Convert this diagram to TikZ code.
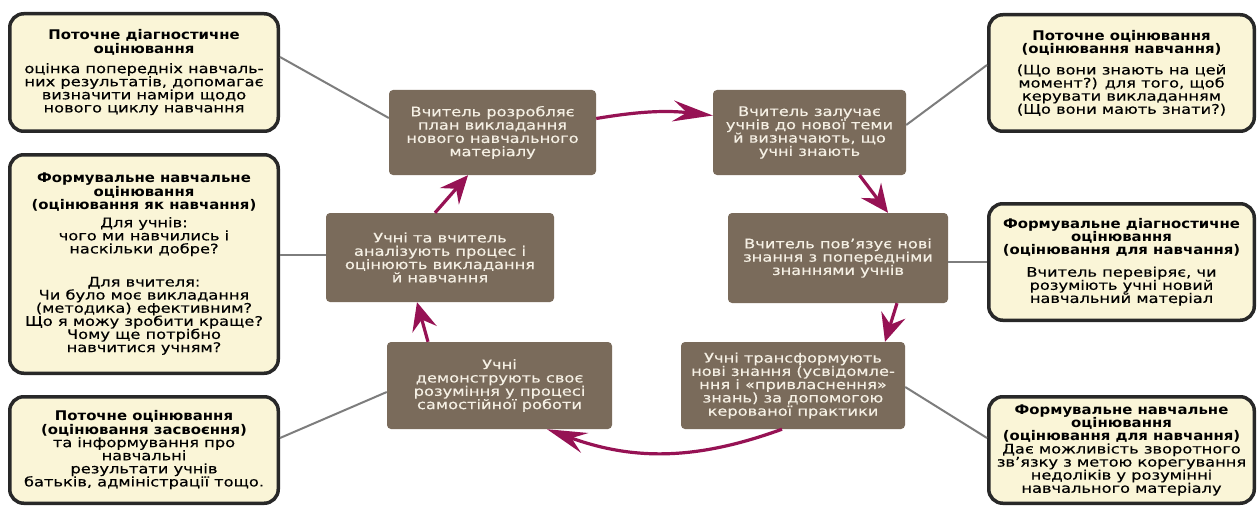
\documentclass[tikz,border=0pt]{standalone}
\usepackage{fontspec}
\setmainfont{DejaVu Sans}[FakeStretch=1.23, FakeBold=0.35]
\newfontfamily\ttlfont{DejaVu Sans}[FakeStretch=1.12]
\usetikzlibrary{arrows.meta}
\definecolor{boxbrown}{RGB}{122,107,91}
\definecolor{boxtext}{RGB}{245,240,228}
\definecolor{noteyel}{RGB}{250,245,215}
\definecolor{notebd}{RGB}{40,40,40}
\definecolor{arrowred}{RGB}{150,18,84}
\definecolor{linegray}{RGB}{125,125,125}
\newcommand{\ttl}[1]{{\ttlfont\fontsize{13.3}{13}\selectfont\bfseries #1}}
\begin{document}
\begin{tikzpicture}[x=1pt,y=-1pt,
  stepbox/.style={fill=boxbrown, rounded corners=4pt, text=boxtext, align=center,
    font=\fontsize{13.2}{13.3}\selectfont, inner sep=0pt},
  notebox/.style={draw=notebd, line width=3.5pt, fill=noteyel, rounded corners=14pt,
    align=center, font=\fontsize{13.2}{13.1}\selectfont, inner sep=0pt, text=black},
  link/.style={draw=linegray, line width=2pt},
  flow/.style={draw=arrowred, line width=3.2pt, -{Stealth[length=28pt,width=25pt,inset=10pt]}},
  flowh/.style={draw=arrowred, line width=3.2pt, -{Stealth[length=40pt,width=21pt,inset=14pt]}},
]
\fill[white] (0,0) rectangle (1260,508);
\useasboundingbox (0,0) rectangle (1260,508);

% process steps
\node[stepbox, minimum width=207pt, minimum height=85pt] (B1) at (492.5,132.5)
  {Вчитель розробляє\\план викладання\\нового навчального\\матеріалу};
\node[stepbox, minimum width=193pt, minimum height=85pt] (B2) at (809.5,132.5)
  {Вчитель залучає\\учнів до нової теми\\й визначають, що\\учні знають};
\node[stepbox, minimum width=220pt, minimum height=90pt] (B3) at (838,258)
  {Вчитель пов’язує нові\\знання з попередніми\\знаннями учнів};
\node[stepbox, minimum width=228pt, minimum height=89pt] (B4) at (440,257.5)
  {Учні та вчитель\\аналізують процес і\\оцінюють викладання\\й навчання};
\node[stepbox, minimum width=225pt, minimum height=87pt] (B5) at (499.5,385.5)
  {Учні\\демонструють своє\\розуміння у процесі\\самостійної роботи};
\node[stepbox, minimum width=224pt, minimum height=87pt] (B6) at (793,385.5)
  {Учні трансформують\\нові знання (усвідомле-\\ння і «привласнення»\\знань) за допомогою\\керованої практики};

% assessment notes
\node[notebox, minimum width=268.5pt, minimum height=117.5pt] (L1) at (144,72.5)
  {\ttl{Поточне діагностичне}\\\ttl{оцінювання}\\[7pt]оцінка попередніх навчаль-\\них результатів, допомагає\\визначити наміри щодо\\нового циклу навчання};
\node[notebox, minimum width=268.5pt, minimum height=218.5pt] (L2) at (144,264)
  {\ttl{Формувальне навчальне}\\\ttl{оцінювання}\\\ttl{(оцінювання як навчання)}\\[5pt]Для учнів:\\чого ми навчились і\\наскільки добре?\\[20pt]Для вчителя:\\Чи було моє викладання\\(методика) ефективним?\\Що я можу зробити краще?\\Чому ще потрібно\\навчитися учням?};
\node[notebox, minimum width=268.5pt, minimum height=106.5pt] (L3) at (144,450)
  {\ttl{Поточне оцінювання}\\\ttl{(оцінювання засвоєння)}\\та інформування про\\навчальні\\результати учнів\\батьків, адміністрації тощо.};
\node[notebox, minimum width=265.5pt, minimum height=116.5pt] (R1) at (1121.5,73)
  {\ttl{Поточне оцінювання}\\\ttl{(оцінювання навчання)}\\[8pt](Що вони знають на цей\\момент?) для того, щоб\\керувати викладанням\\(Що вони мають знати?)};
\node[notebox, minimum width=265.5pt, minimum height=116.5pt] (R2) at (1121.5,262)
  {\ttl{Формувальне діагностичне}\\\ttl{оцінювання}\\\ttl{(оцінювання для навчання)}\\[9pt]Вчитель перевіряє, чи\\розуміють учні новий\\навчальний матеріал};
\node[notebox, minimum width=265.5pt, minimum height=106.5pt] (R3) at (1121.5,450)
  {\ttl{Формувальне навчальне}\\\ttl{оцінювання}\\\ttl{(оцінювання для навчання)}\\Дає можливість зворотного\\зв’язку з метою корегування\\недоліків у розумінні\\навчального матеріалу};

% grey links
\draw[link] ([yshift=15.5pt]L1.east) -- ([yshift=14.5pt]B1.west);
\draw[link] ([yshift=2.5pt]B4.west) -- ([yshift=2.5pt]B4.west -| L2.east);
\draw[link] ([yshift=12pt]L3.east) -- ([yshift=-6.5pt]B5.west);
\draw[link] ([yshift=7.5pt]B2.east) -- ([yshift=8pt]R1.west);
\draw[link] ([yshift=-4pt]B3.east) -- ([yshift=-4pt]B3.east -| R2.west);
\draw[link] ([yshift=-1.5pt]B6.east) -- ([yshift=12pt]R3.west);

% cycle arrows
\draw[flowh] ([yshift=14pt]B1.east) to[bend left=8] ([yshift=17pt]B2.west);
\draw[flow] ([xshift=50pt]B2.south) -- ([xshift=50pt]B3.north);
\draw[flow] ([xshift=59pt]B3.south) -- ([xshift=92pt]B6.north);
\draw[flowh] ([xshift=-11pt]B6.south) to[bend left=20] ([xshift=47.5pt]B5.south);
\draw[flow] ([xshift=-71.5pt]B5.north) -- ([xshift=-23pt]B4.south);
\draw[flow] ([xshift=-5pt]B4.north) -- ([xshift=-24.5pt]B1.south);
\end{tikzpicture}
\end{document}
